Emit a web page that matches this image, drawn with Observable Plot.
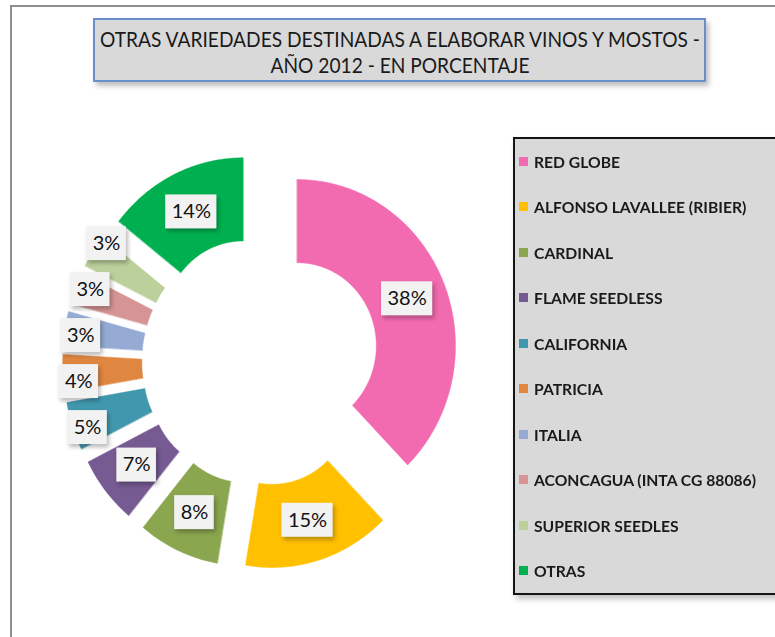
<!DOCTYPE html>
<html>
<head>
<meta charset="utf-8">
<script src="https://cdn.jsdelivr.net/npm/d3@7"></script>
<script src="https://cdn.jsdelivr.net/npm/@observablehq/plot@0.6"></script>
<style>
html,body{margin:0;padding:0;background:#fff;}
#page{position:relative;width:775px;height:637px;overflow:hidden;font-family:Lato,"Open Sans",sans-serif;background:#fff;}
#frame{position:absolute;left:10px;top:5px;width:900px;height:800px;border-left:2px solid #8e8e8e;border-top:2px solid #8e8e8e;}
#title{position:absolute;left:93px;top:18px;width:613px;height:64px;box-sizing:border-box;background:#d9d9d9;border:2px solid #6a8fc6;box-shadow:3px 4px 5px rgba(0,0,0,0.25);color:#1a1a1a;font-size:21px;}
#title .ln{position:absolute;left:50%;white-space:nowrap;line-height:23px;transform-origin:center center;}
#legend{position:absolute;left:513px;top:137px;width:320px;height:458px;box-sizing:border-box;background:#d9d9d9;border:2px solid #141414;box-shadow:3px 4px 6px rgba(0,0,0,0.25);}
.item{position:absolute;left:4px;height:20px;display:flex;align-items:center;white-space:nowrap;}
.sw{width:9px;height:9px;margin-right:6px;flex:none;}
.lab{display:inline-block;transform-origin:left center;font-weight:700;font-size:16px;color:#1a1a1a;}
#chart{position:absolute;left:0;top:110px;}
</style>
</head>
<body>
<div id="page">
  <div id="frame"></div>
  <div id="chart"></div>
  <div id="title"></div>
  <div id="legend"></div>
</div>
<script>
// ---- data ----
const names = ["RED GLOBE","ALFONSO LAVALLEE (RIBIER)","CARDINAL","FLAME SEEDLESS","CALIFORNIA","PATRICIA","ITALIA","ACONCAGUA (INTA CG 88086)","SUPERIOR SEEDLES","OTRAS"];
const values = [37.7, 15.0, 8.3, 6.6, 4.7, 3.6, 3.3, 3.1, 3.3, 14.4];
const colors = ["#f26aaf","#ffc000","#8aa64f","#765a92","#4198ae","#df8641","#95abd4","#d69494","#bcd09b","#00b050"];
const titleLines = ["OTRAS VARIEDADES DESTINADAS A ELABORAR VINOS Y MOSTOS -","AÑO 2012 - EN PORCENTAJE"];

// ---- layout ----
const W = 500, H = 500;
const cxPx = 260, cyPx = 251;      // donut centre within svg
const kx = 158.3, ky = 166.3;      // px per unit radius
const R1 = 1, R0 = 0.5, EXPL = 0.25, RLAB = 0.75, RLAB_OUT = 0.9;
const labelFont = 20;

const total = d3.sum(values);
const arcs = d3.pie().sort(null).value(d => d)(values);

const pts = [];
const labels = [];
const canvas = document.createElement("canvas").getContext("2d");
canvas.font = `${labelFont}px Lato`;
arcs.forEach((a, i) => {
  const mid = (a.startAngle + a.endAngle) / 2;
  const ox = EXPL * Math.sin(mid), oy = EXPL * Math.cos(mid);
  const n = Math.max(4, Math.ceil((a.endAngle - a.startAngle) / (Math.PI / 180)));
  for (let k = 0; k <= n; k++) {
    const t = a.startAngle + (a.endAngle - a.startAngle) * k / n;
    pts.push({name: names[i], x: ox + R1 * Math.sin(t), y: oy + R1 * Math.cos(t)});
  }
  for (let k = n; k >= 0; k--) {
    const t = a.startAngle + (a.endAngle - a.startAngle) * k / n;
    pts.push({name: names[i], x: ox + R0 * Math.sin(t), y: oy + R0 * Math.cos(t)});
  }
  const rl = values[i] < 6 ? RLAB_OUT : RLAB;
  const x = ox + rl * Math.sin(mid), y = oy + rl * Math.cos(mid);
  const text = d3.format(".0%")(values[i] / total);
  const tw = canvas.measureText(text).width;
  labels.push({name: names[i], text, px: cxPx + kx * x, py: cyPx - ky * y, w: tw + 12, h: 34});
});

// simple vertical collision relaxation of label boxes (pixel space)
const minGap = 46;
for (let it = 0; it < 300; it++) {
  for (let i = 0; i < labels.length; i++) for (let j = i + 1; j < labels.length; j++) {
    const A = labels[i], B = labels[j];
    if (Math.abs(A.px - B.px) < (A.w + B.w) / 2 + 4) {
      const dy = B.py - A.py;
      if (Math.abs(dy) < minGap) {
        const push = (minGap - Math.abs(dy)) / 2 * (dy >= 0 ? 1 : -1);
        A.py -= push; B.py += push;
      }
    }
  }
}
labels.forEach(l => {
  l.x = (l.px - cxPx) / kx; l.y = (cyPx - l.py) / ky;
  l.x1 = l.x - l.w / 2 / kx; l.x2 = l.x + l.w / 2 / kx;
  l.y1 = l.y - l.h / 2 / ky; l.y2 = l.y + l.h / 2 / ky;
});

const plot = Plot.plot({
  width: W, height: H, margin: 0,
  x: {domain: [-cxPx / kx, (W - cxPx) / kx], range: [0, W], axis: null},
  y: {domain: [-(H - cyPx) / ky, cyPx / ky], range: [H, 0], axis: null},
  color: {domain: names, range: colors},
  style: {background: "transparent"},
  marks: [
    Plot.line(pts, {x: "x", y: "y", z: "name", fill: "name", stroke: "name", strokeWidth: 0.5, curve: "linear-closed"}),
    Plot.rect(labels, {x1: "x1", x2: "x2", y1: "y1", y2: "y2", fill: "#f2f2f2"}),
    Plot.text(labels, {x: "x", y: "y", text: "text", fontSize: labelFont, fontFamily: "Lato", fill: "#111"})
  ]
});
const rg = plot.querySelector('g[aria-label="rect"]');
if (rg) rg.style.filter = "drop-shadow(2px 3px 2px rgba(0,0,0,0.28))";
document.getElementById("chart").appendChild(plot);

// ---- title ----
const title = document.getElementById("title");
const lines = titleLines.map((t, i) => {
  const ln = document.createElement("div");
  ln.className = "ln";
  ln.style.top = (i === 0 ? 7.2 : 32.8) + "px";
  ln.textContent = t;
  title.appendChild(ln);
  return ln;
});
const s1 = 600 / lines[0].getBoundingClientRect().width;
lines.forEach(ln => ln.style.transform = `translateX(-50%) scaleX(${s1})`);

// ---- legend ----
const legend = document.getElementById("legend");
const labs = names.map((n, i) => {
  const it = document.createElement("div");
  it.className = "item";
  it.style.top = (24 + i * 45.55 - 2 - 10) + "px";
  const sw = document.createElement("div");
  sw.className = "sw";
  sw.style.background = colors[i];
  const lb = document.createElement("span");
  lb.className = "lab";
  lb.textContent = n;
  it.appendChild(sw); it.appendChild(lb);
  legend.appendChild(it);
  return lb;
});
const s2 = 222 / labs[7].getBoundingClientRect().width;
labs.forEach(l => l.style.transform = `scaleX(${s2})`);
</script>
</body>
</html>
